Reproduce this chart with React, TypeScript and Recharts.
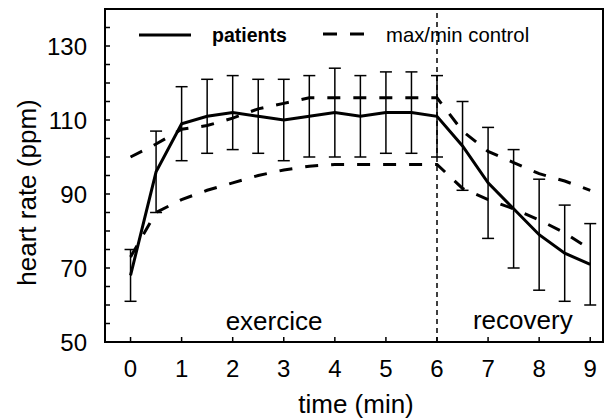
import React from 'react';
import {
    LineChart,
    Line,
    XAxis,
    YAxis,
    ErrorBar,
    ReferenceLine,
    ReferenceArea,
    ReferenceDot
} from 'recharts';

// valores (min, ppm)
const times = [0, 0.5, 1, 1.5, 2, 2.5, 3, 3.5, 4, 4.5, 5, 5.5, 6, 6.5, 7, 7.5, 8, 8.5, 9];
const patients = [68, 96, 109, 111, 112, 111, 110, 111, 112, 111, 112, 112, 111, 103, 93, 86, 79, 74, 71];
const patientsErr = [7, 11, 10, 10, 10, 10, 11, 11, 12, 11, 11, 11, 11, 12, 15, 16, 15, 13, 11];
const maxControl = [100, 103.5, 107.5, 108.5, 110.5, 113, 114.5, 116, 116, 116, 116, 116, 116, 107, 101.5, 98.5, 95.5, 93.5, 91];
const minControl = [73, 85, 88.5, 91, 93, 95, 96.5, 97.5, 98, 98, 98, 98, 98, 91.5, 88.5, 86, 83, 79.5, 75];

const xTicks = [0, 1, 2, 3, 4, 5, 6, 7, 8, 9];
const yTicks = [50, 55, 60, 65, 70, 75, 80, 85, 90, 95, 100, 105, 110, 115, 120, 125, 130, 135, 140];
const yLabels = [50, 70, 90, 110, 130];

const data = times.map((t, i) => ({
    t,
    patients: patients[i],
    err: patientsErr[i],
    max: maxControl[i],
    min: minControl[i]
}));

const FONT = '"Liberation Sans", Arial, sans-serif';

const YTick = (props: any) => {
    const { x, y, payload } = props;
    return (
        <g>
            <line x1={x} y1={y} x2={x + 5} y2={y} stroke="#000" strokeWidth={1.5} />
            {yLabels.includes(payload.value) && (
                <text x={x - 18} y={y} dy="0.36em" textAnchor="end" fontSize={24} fontFamily={FONT} fill="#000">
                    {payload.value}
                </text>
            )}
        </g>
    );
};

const XTick = (props: any) => {
    const { x, y, payload } = props;
    return (
        <g>
            <line x1={x} y1={y} x2={x} y2={y - 5} stroke="#000" strokeWidth={1.5} />
            <text x={x} y={y + 35} textAnchor="middle" fontSize={24} fontFamily={FONT} fill="#000">
                {payload.value}
            </text>
        </g>
    );
};

const phaseLabel = (text: string) => (props: any) => {
    const vb = props.viewBox;
    return (
        <text
            x={vb.x + vb.width / 2}
            y={vb.y + vb.height / 2}
            textAnchor="middle"
            fontSize={26}
            fontFamily={FONT}
            fill="#000"
        >
            {text}
        </text>
    );
};

const App: React.FC = () => {
    return (
        <div style={{ position: 'absolute', left: 0, top: 0, width: 605, height: 418, background: '#fff' }}>
            <LineChart width={605} height={418} data={data} margin={{ top: 9, right: 2, bottom: 0, left: 0 }}>
                <XAxis
                    dataKey="t"
                    type="number"
                    domain={[-0.5, 9.25]}
                    ticks={xTicks}
                    height={76}
                    tickSize={0}
                    tickMargin={0}
                    tickLine={false}
                    tick={XTick}
                    axisLine={{ stroke: '#000', strokeWidth: 2 }}
                    label={(p: any) => (
                        <text
                            x={p.viewBox.x + p.viewBox.width / 2 + 2}
                            y={p.viewBox.y + 71}
                            textAnchor="middle"
                            fontSize={26}
                            fontFamily={FONT}
                            fill="#000"
                        >
                            time (min)
                        </text>
                    )}
                />
                <YAxis
                    type="number"
                    domain={[50, 140]}
                    ticks={yTicks}
                    interval={0}
                    width={105}
                    tickSize={0}
                    tickMargin={0}
                    tickLine={false}
                    tick={YTick}
                    axisLine={{ stroke: '#000', strokeWidth: 2 }}
                    label={(p: any) => {
                        const cx = p.viewBox.x + 36;
                        const cy = p.viewBox.y + p.viewBox.height / 2 + 17;
                        return (
                            <text
                                x={cx}
                                y={cy}
                                transform={`rotate(-90 ${cx} ${cy})`}
                                textAnchor="middle"
                                fontSize={26}
                                fontFamily={FONT}
                                fill="#000"
                            >
                                heart rate (ppm)
                            </text>
                        );
                    }}
                />
                <ReferenceArea x1={-0.5} x2={9.25} y1={50} y2={140} fill="none" stroke="#000" strokeWidth={2} />
                <ReferenceLine x={6} stroke="#000" strokeWidth={1.5} strokeDasharray="5 4" />
                <ReferenceDot x={2.81} y={53.2} r={0} fill="none" stroke="none" label={phaseLabel('exercice')} />
                <ReferenceDot x={7.68} y={53.6} r={0} fill="none" stroke="none" label={phaseLabel('recovery')} />
                <Line
                    dataKey="max"
                    type="linear"
                    stroke="#000"
                    strokeWidth={3}
                    strokeDasharray="13 13"
                    dot={false}
                    isAnimationActive={false}
                />
                <Line
                    dataKey="min"
                    type="linear"
                    stroke="#000"
                    strokeWidth={3}
                    strokeDasharray="13 13"
                    dot={false}
                    isAnimationActive={false}
                />
                <Line
                    dataKey="patients"
                    type="linear"
                    stroke="#000"
                    strokeWidth={3}
                    dot={false}
                    isAnimationActive={false}
                >
                    <ErrorBar dataKey="err" direction="y" width={6} stroke="#000" strokeWidth={1.5} isAnimationActive={false} />
                </Line>
            </LineChart>
            <svg
                width={605}
                height={60}
                style={{ position: 'absolute', left: 0, top: 0, pointerEvents: 'none' }}
            >
                <line x1={139} y1={35} x2={191} y2={35} stroke="#000" strokeWidth={3} />
                <text x={212} y={42} fontSize={19.5} fontWeight="bold" fontFamily={FONT} fill="#000">
                    patients
                </text>
                <line x1={323} y1={34} x2={364} y2={34} stroke="#000" strokeWidth={3} strokeDasharray="14 13" />
                <text x={386} y={42} fontSize={20.3} fontFamily={FONT} fill="#000">
                    max/min control
                </text>
            </svg>
        </div>
    );
};

export default App;
